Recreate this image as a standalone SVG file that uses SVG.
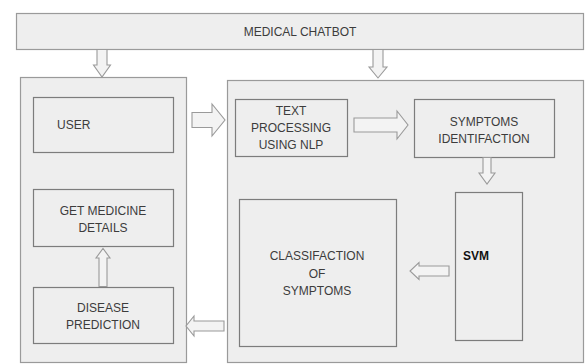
<svg xmlns="http://www.w3.org/2000/svg" width="585" height="364" viewBox="0 0 585 364">
<style>
.panel{fill:#eeeeee;stroke:#9a9a9a;stroke-width:1.2}
.box{fill:#eeeeee;stroke:#7c7c7c;stroke-width:1.2}
.arr{fill:#f3f3f3;stroke:#9a9a9a;stroke-width:1.1;stroke-linejoin:miter}
text{font-family:"Liberation Sans",Arial,sans-serif;font-size:12px;fill:#3c3c3c}
.c{text-anchor:middle}
.b{font-weight:bold;fill:#111;font-size:13px}
</style>
<rect width="585" height="364" fill="#ffffff"/>
<g id="medical-chatbot">
<rect class="panel" x="16.5" y="13.5" width="567" height="36"/>
<text class="c" x="300" y="36">MEDICAL CHATBOT</text>
</g>
<g id="left-panel">
<rect class="panel" x="20.5" y="77.5" width="166" height="285"/>
</g>
<g id="right-panel">
<rect class="panel" x="227.5" y="80.5" width="356" height="282"/>
</g>
<g id="user">
<rect class="box" x="33.5" y="97.5" width="140" height="55"/>
<text x="57" y="129">USER</text>
</g>
<g id="get-medicine">
<rect class="box" x="33.5" y="189.5" width="140" height="57"/>
<text class="c" x="103" y="215">GET MEDICINE</text>
<text class="c" x="103" y="232">DETAILS</text>
</g>
<g id="disease-prediction">
<rect class="box" x="33.5" y="287.5" width="140" height="56"/>
<text class="c" x="103" y="312">DISEASE</text>
<text class="c" x="103" y="329">PREDICTION</text>
</g>
<g id="text-processing">
<rect class="box" x="235.5" y="99.5" width="112" height="57"/>
<text class="c" x="291" y="115">TEXT</text>
<text class="c" x="291" y="132">PROCESSING</text>
<text class="c" x="291" y="149">USING NLP</text>
</g>
<g id="symptoms-identification">
<rect class="box" x="414.5" y="99.5" width="140" height="58"/>
<text class="c" x="484" y="126">SYMPTOMS</text>
<text class="c" x="484" y="143">IDENTIFACTION</text>
</g>
<g id="svm">
<rect class="box" x="455.5" y="192.5" width="67" height="148"/>
<text class="b" x="463" y="260" textLength="26" lengthAdjust="spacingAndGlyphs">SVM</text>
</g>
<g id="classification">
<rect class="box" x="239.5" y="199.5" width="157" height="147"/>
<text class="c" x="317" y="260">CLASSIFACTION</text>
<text class="c" x="317" y="278">OF</text>
<text class="c" x="317" y="295">SYMPTOMS</text>
</g>
<g id="connectors">
<polygon class="arr" points="97,49.5 107,49.5 107,65 110.5,65 102,77 93.5,65 97,65"/>
<polygon class="arr" points="373,49.5 383,49.5 383,67 387,67 378,78 369,67 373,67"/>
<polygon class="arr" points="192,112.5 212,112.5 212,104 225,120 212,136 212,127.5 192,127.5"/>
<polygon class="arr" points="354,118 397,118 397,111 408,125 397,139 397,132 354,132"/>
<polygon class="arr" points="483,157.5 491,157.5 491,173 495,173 487,184 479,173 483,173"/>
<polygon class="arr" points="449,266 419,266 419,262.5 410,271 419,279.5 419,276 449,276"/>
<polygon class="arr" points="224,321 194,321 194,316 186,326 194,336 194,331 224,331"/>
<polygon class="arr" points="99,286.5 99,258 96,258 103,248.5 110,258 107,258 107,286.5"/>
</g>
</svg>
